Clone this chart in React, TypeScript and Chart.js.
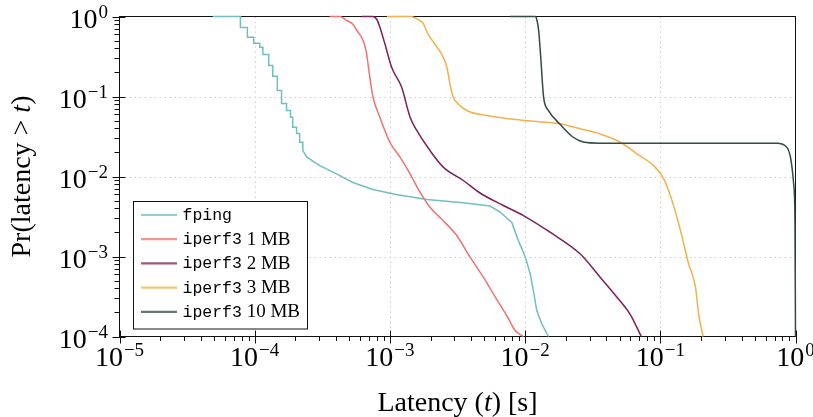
import React, { useEffect, useRef } from "react";
import { Chart, registerables } from "chart.js";

Chart.register(...registerables);

// ---- data: [latency (s), Pr(latency > t)] ----
const fpingPoints: [number, number][] = [
  [4.89e-5, 1], [7.84e-5, 1], [7.84e-5, 0.729], [8.83e-5, 0.729], [8.83e-5, 0.551],
  [9.83e-5, 0.551], [9.83e-5, 0.464], [1.09e-4, 0.464], [1.09e-4, 0.413], [1.15e-4, 0.413],
  [1.15e-4, 0.335], [1.27e-4, 0.335], [1.27e-4, 0.244], [1.36e-4, 0.244], [1.36e-4, 0.179],
  [1.47e-4, 0.179], [1.47e-4, 0.119], [1.58e-4, 0.119], [1.58e-4, 0.0818], [1.72e-4, 0.0818],
  [1.72e-4, 0.0668], [1.84e-4, 0.0668], [1.84e-4, 0.0551], [1.91e-4, 0.0551], [1.91e-4, 0.0413],
  [2.04e-4, 0.0413], [2.04e-4, 0.0345], [2.15e-4, 0.0345], [2.15e-4, 0.0268], [2.27e-4, 0.0268],
  [2.27e-4, 0.0211], [2.43e-4, 0.0174], [3.03e-4, 0.0137], [4.03e-4, 0.0108], [5.32e-4, 0.00841],
  [7.48e-4, 0.00688], [1.11e-3, 0.00596], [1.88e-3, 0.00516], [3.47e-3, 0.00469], [5.5e-3, 0.00428],
  [6.53e-3, 0.0036], [7.97e-3, 0.00266], [8.92e-3, 0.00158], [0.01, 0.001], [0.0109, 6.13e-4],
  [0.0115, 3.76e-4], [0.0122, 2.11e-4], [0.0133, 1.43e-4], [0.0149, 1e-4],
];

const iperf1MBPoints: [number, number][] = [
  [3.59e-4, 1], [4.26e-4, 1], [4.8e-4, 0.891], [5.35e-4, 0.794], [5.7e-4, 0.668],
  [6.34e-4, 0.501], [6.7e-4, 0.355], [6.99e-4, 0.211], [7.48e-4, 0.1], [8.43e-4, 0.0551],
  [1e-3, 0.0268], [1.19e-3, 0.0173], [1.41e-3, 0.0108], [1.67e-3, 0.00637], [1.98e-3, 0.00413],
  [2.47e-3, 0.00282], [3.12e-3, 0.00183], [3.92e-3, 9.8e-4], [4.91e-3, 5.51e-4], [5.82e-3, 3.42e-4],
  [7.31e-3, 1.83e-4], [8.43e-3, 1.19e-4], [9.71e-3, 1e-4],
];

const iperf2MBPoints: [number, number][] = [
  [6.2e-4, 1], [7.48e-4, 1], [8.01e-4, 0.917], [8.43e-4, 0.735], [9.18e-4, 0.456],
  [1.03e-3, 0.232], [1.22e-3, 0.131], [1.41e-3, 0.0551], [1.58e-3, 0.0376], [1.98e-3, 0.0211],
  [2.48e-3, 0.0131], [3.49e-3, 0.00891], [4.64e-3, 0.00622], [6.9e-3, 0.00434], [9.71e-3, 0.00325],
  [0.0153, 0.00201], [0.0255, 0.00108], [0.0359, 5.51e-4], [0.0478, 3.1e-4], [0.06, 1.88e-4],
  [0.0723, 1e-4],
];

const iperf3MBPoints: [number, number][] = [
  [9.5e-4, 1], [1.41e-3, 1], [1.58e-3, 0.936], [1.77e-3, 0.811], [1.91e-3, 0.608],
  [2.19e-3, 0.434], [2.48e-3, 0.31], [2.64e-3, 0.232], [2.78e-3, 0.144], [2.93e-3, 0.1],
  [3.12e-3, 0.0841], [3.7e-3, 0.0668], [5.2e-3, 0.0579], [0.01, 0.0501], [0.0182, 0.0456],
  [0.0255, 0.0395], [0.0359, 0.034], [0.0506, 0.0268], [0.0672, 0.0192], [0.0892, 0.0137],
  [0.106, 0.00936], [0.122, 0.00501], [0.141, 0.00211], [0.162, 8.1e-4], [0.182, 4.13e-4],
  [0.192, 1.92e-4], [0.207, 1e-4],
];

const iperf10MBPoints: [number, number][] = [
  [7.74e-3, 1], [0.0119, 1], [0.0122, 0.917], [0.0126, 0.668], [0.0131, 0.282],
  [0.0137, 0.098], [0.0149, 0.0668], [0.0182, 0.0447], [0.0223, 0.0316], [0.0269, 0.027],
  [0.0359, 0.0261], [0.732, 0.0261], [0.843, 0.0241], [0.918, 0.0174], [0.971, 0.00772],
  [0.991, 0.00282], [1, 1e-4],
];

const seriesPoints = [fpingPoints, iperf1MBPoints, iperf2MBPoints, iperf3MBPoints, iperf10MBPoints];
const seriesMono = ["fping", "iperf3", "iperf3", "iperf3", "iperf3"];
const seriesRest = ["", " 1 MB", " 2 MB", " 3 MB", " 10 MB"];
const seriesColors = ["#72bec2", "#f07272", "#7b1f5e", "#f2b14f", "#2f4c43"];

const xTickExponents = [-5, -4, -3, -2, -1, 0];
const yTickExponents = [-4, -3, -2, -1, 0];
const xMin = 1e-5;
const xMax = 1;
const yMin = 1e-4;
const yMax = 1;

const SERIF = '"Liberation Serif", "DejaVu Serif", serif';
const MONO = '"Liberation Mono", "DejaVu Sans Mono", monospace';

function drawPow(ctx: CanvasRenderingContext2D, x: number, y: number, exp: number, align: "center" | "right") {
  const base = "10";
  const sup = exp < 0 ? "\u2212" + Math.abs(exp) : String(exp);
  ctx.font = `28px ${SERIF}`;
  const wb = ctx.measureText(base).width;
  ctx.font = `19px ${SERIF}`;
  const ws = ctx.measureText(sup).width;
  const gap = 1;
  const total = wb + gap + ws;
  const x0 = align === "center" ? x - total / 2 : x - total;
  ctx.textAlign = "left";
  ctx.textBaseline = "alphabetic";
  ctx.font = `28px ${SERIF}`;
  ctx.fillText(base, x0, y);
  ctx.font = `19px ${SERIF}`;
  ctx.fillText(sup, x0 + wb + gap, y - 10);
}

function drawSegments(ctx: CanvasRenderingContext2D, segs: [string, string][], cx: number, y: number) {
  let total = 0;
  for (const [t, f] of segs) {
    ctx.font = f;
    total += ctx.measureText(t).width;
  }
  let x = cx - total / 2;
  ctx.textAlign = "left";
  ctx.textBaseline = "alphabetic";
  for (const [t, f] of segs) {
    ctx.font = f;
    ctx.fillText(t, x, y);
    x += ctx.measureText(t).width;
  }
}

const axesPlugin = {
  id: "pgfAxes",
  beforeDraw(chart: any) {
    const ctx = chart.ctx as CanvasRenderingContext2D;
    ctx.save();
    ctx.fillStyle = "#ffffff";
    ctx.fillRect(0, 0, chart.width, chart.height);
    ctx.restore();
  },
  beforeDatasetsDraw(chart: any) {
    const ctx = chart.ctx as CanvasRenderingContext2D;
    const { left, right, top, bottom } = chart.chartArea;
    const xs = chart.scales.x;
    const ys = chart.scales.y;
    ctx.save();
    ctx.strokeStyle = "#cfcfcf";
    ctx.lineWidth = 1;
    ctx.setLineDash([1.5, 3.5]);
    for (const e of xTickExponents) {
      if (e <= -5 || e >= 0) continue;
      const px = Math.round(xs.getPixelForValue(Math.pow(10, e))) + 0.5;
      ctx.beginPath();
      ctx.moveTo(px, top);
      ctx.lineTo(px, bottom);
      ctx.stroke();
    }
    for (const e of yTickExponents) {
      if (e <= -4 || e >= 0) continue;
      const py = Math.round(ys.getPixelForValue(Math.pow(10, e))) + 0.5;
      ctx.beginPath();
      ctx.moveTo(left, py);
      ctx.lineTo(right, py);
      ctx.stroke();
    }
    ctx.setLineDash([]);
    ctx.strokeStyle = "#111111";
    ctx.lineWidth = 1;
    ctx.strokeRect(left, top, right - left, bottom - top);
    ctx.restore();
  },
  afterDatasetsDraw(chart: any) {
    const ctx = chart.ctx as CanvasRenderingContext2D;
    const { left, right, top, bottom } = chart.chartArea;
    const xs = chart.scales.x;
    const ys = chart.scales.y;
    ctx.save();
    ctx.strokeStyle = "#111111";
    ctx.lineWidth = 1;
    // x ticks
    for (const e of xTickExponents) {
      const px = Math.round(xs.getPixelForValue(Math.pow(10, e))) + 0.5;
      ctx.beginPath();
      ctx.moveTo(px, bottom - 6);
      ctx.lineTo(px, bottom + 7);
      ctx.stroke();
      if (e < 0) {
        for (let m = 2; m <= 9; m++) {
          const pm = Math.round(xs.getPixelForValue(m * Math.pow(10, e))) + 0.5;
          ctx.beginPath();
          ctx.moveTo(pm, bottom);
          ctx.lineTo(pm, bottom + 4.5);
          ctx.stroke();
        }
      }
    }
    // y ticks
    for (const e of yTickExponents) {
      const py = Math.round(ys.getPixelForValue(Math.pow(10, e))) + 0.5;
      ctx.beginPath();
      ctx.moveTo(left - 7, py);
      ctx.lineTo(left + 6, py);
      ctx.stroke();
      if (e < 0) {
        for (let m = 2; m <= 9; m++) {
          const pm = Math.round(ys.getPixelForValue(m * Math.pow(10, e))) + 0.5;
          ctx.beginPath();
          ctx.moveTo(left - 5, pm);
          ctx.lineTo(left, pm);
          ctx.stroke();
        }
      }
    }
    // tick labels
    ctx.fillStyle = "#000000";
    for (const e of xTickExponents) {
      drawPow(ctx, xs.getPixelForValue(Math.pow(10, e)), 366, e, "center");
    }
    for (const e of yTickExponents) {
      drawPow(ctx, 108, ys.getPixelForValue(Math.pow(10, e)) + 11, e, "right");
    }
    // axis titles
    drawSegments(
      ctx,
      [
        ["Latency (", `28px ${SERIF}`],
        ["t", `italic 28px ${SERIF}`],
        [") [s]", `28px ${SERIF}`],
      ],
      (left + right) / 2,
      411
    );
    ctx.save();
    ctx.translate(30, (top + bottom) / 2);
    ctx.rotate(-Math.PI / 2);
    drawSegments(
      ctx,
      [
        ["Pr(latency > ", `28px ${SERIF}`],
        ["t", `italic 28px ${SERIF}`],
        [")", `28px ${SERIF}`],
      ],
      0,
      0
    );
    ctx.restore();

    // legend
    const bx = left + 14;
    const by = 201.5;
    const bw = 174;
    const bh = 127.5;
    ctx.fillStyle = "#ffffff";
    ctx.fillRect(bx, by, bw, bh);
    ctx.strokeStyle = "#111111";
    ctx.lineWidth = 1;
    ctx.strokeRect(bx, by, bw, bh);
    for (let i = 0; i < seriesMono.length; i++) {
      const cy = by + 13.5 + i * 24.2;
      ctx.save();
      ctx.globalAlpha = 0.75;
      ctx.strokeStyle = seriesColors[i];
      ctx.lineWidth = 2.2;
      ctx.beginPath();
      ctx.moveTo(bx + 7.5, cy);
      ctx.lineTo(bx + 43.5, cy);
      ctx.stroke();
      ctx.restore();
      ctx.fillStyle = "#000000";
      ctx.textAlign = "left";
      ctx.textBaseline = "alphabetic";
      ctx.font = `16.5px ${MONO}`;
      const tx = bx + 49;
      ctx.fillText(seriesMono[i], tx, cy + 5);
      const wm = ctx.measureText(seriesMono[i]).width;
      ctx.font = `19px ${SERIF}`;
      ctx.fillText(seriesRest[i], tx + wm, cy + 5.5);
    }
    ctx.restore();
  },
};

export default function App() {
  const ref = useRef<HTMLCanvasElement>(null);
  useEffect(() => {
    if (!ref.current) return;
    const n = seriesPoints.length;
    const chart = new Chart(ref.current, {
      type: "scatter",
      data: {
        datasets: seriesPoints.map((pts, i) => ({
          label: seriesMono[i] + seriesRest[i],
          data: pts.map(([x, y]) => ({ x, y })),
          showLine: true,
          borderColor: seriesColors[i],
          backgroundColor: seriesColors[i],
          borderWidth: 1.5,
          pointRadius: 0,
          pointHoverRadius: 0,
          tension: 0,
          cubicInterpolationMode: i === 0 ? "default" : "monotone",
          clip: false,
          order: n - i,
        })),
      } as any,
      options: {
        responsive: false,
        animation: false,
        devicePixelRatio: 1,
        events: [],
        layout: { padding: { left: 119.5, right: 17.5, top: 16.5, bottom: 80.5 } },
        scales: {
          x: { type: "logarithmic", min: xMin, max: xMax, display: false },
          y: { type: "logarithmic", min: yMin, max: yMax, display: false },
        },
        plugins: { legend: { display: false }, tooltip: { enabled: false } },
      } as any,
      plugins: [axesPlugin as any],
    });
    return () => chart.destroy();
  }, []);
  return (
    <div style={{ position: "fixed", left: 0, top: 0, width: 813, height: 417 }}>
      <canvas ref={ref} width={813} height={417} style={{ display: "block" }} />
    </div>
  );
}
